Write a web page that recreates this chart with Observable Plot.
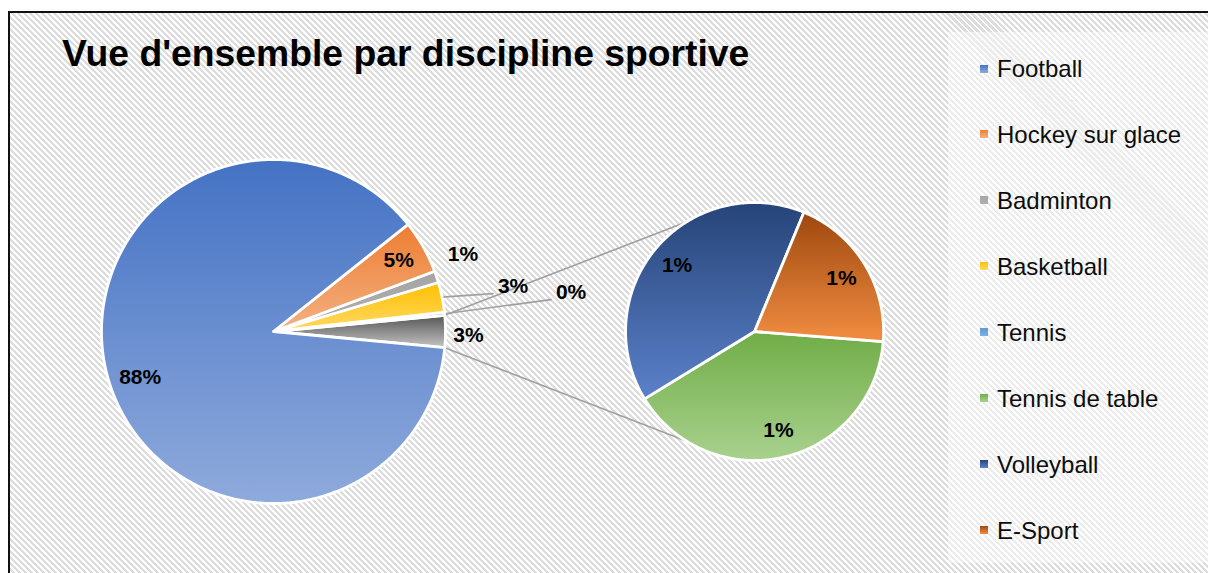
<!DOCTYPE html>
<html>
<head>
<meta charset="utf-8">
<script src="https://cdn.jsdelivr.net/npm/d3@7"></script>
<script src="https://cdn.jsdelivr.net/npm/@observablehq/plot@0.6"></script>
<style>
  html, body { margin: 0; padding: 0; background: #fff; width: 1208px; height: 573px; overflow: hidden;
    font-family: "Liberation Sans", Arial, sans-serif; }
  #wrap { position: relative; width: 1208px; height: 573px; overflow: hidden; }
  #frame { position: absolute; left: 8px; top: 11px; width: 1220px; height: 620px;
    border-left: 2px solid #111; border-top: 2px solid #111;
    background: repeating-linear-gradient(45deg, #ffffff 0px, #ffffff 2.1px, #dcdcdc 2.1px, #dcdcdc 4.24px); }
  #legendbox { position: absolute; left: 948px; top: 32px; width: 280px; height: 531px;
    background: rgba(255,255,255,0.45); }
  #chart { position: absolute; left: 0; top: 0; }
  #title { position: absolute; left: 62px; top: 35px; font-weight: bold; font-size: 37.3px;
    line-height: 37.3px; color: #000; white-space: nowrap; }
  .sw { position: absolute; width: 8px; height: 8px; }
  .lt { position: absolute; font-size: 24px; line-height: 24px; color: #0d0d0d; white-space: nowrap; }
</style>
</head>
<body>
<div id="wrap">
  <div id="frame"></div>
  <div id="legendbox"></div>
  <div id="chart"></div>
  <div id="title">Vue d'ensemble par discipline sportive</div>
  <div id="legend"></div>
</div>
<script>
// ---------------- DATA ----------------
const categories = ["Football", "Hockey sur glace", "Badminton", "Basketball", "Tennis",
                    "Tennis de table", "Volleyball", "E-Sport"];
const values = [87.8, 5.0, 1.1, 2.8, 0.3, 1.2, 1.2, 0.6];   // percent of total
const mainCount = 5;   // first 5 in the main pie, the rest grouped into "Autre" (secondary pie)

// ---------------- STYLE ----------------
const colorTop    = ["#4472C4", "#ED7D31", "#A5A5A5", "#FFC000", "#5B9BD5", "#70AD47", "#264478", "#9E480E"];
const colorBottom = ["#8FAADC", "#F4B183", "#B0B0B0", "#FFD966", "#7DB1E0", "#A9D18E", "#5B81C9", "#F28D42"];
const otherTop = "#555555", otherBottom = "#C4C4C4";

// ---------------- LAYOUT ----------------
const W = 1208, H = 573;
const PX = 172;                 // pixels per data unit (main pie radius = 1)
const CENTER = [273, 331];      // main pie centre in pixels
const CX2 = 2.797, R2 = 0.75;   // secondary pie centre (data units) and radius
const ROT2 = -4.5;              // secondary pie start angle (degrees, clockwise sweep)
const CONNECT2 = 122;           // angle on secondary pie where connector lines land
// label placement: [angle offset from slice mid (deg), radius factor]
const labelMain = [[2.5, 0.82], [0, 0.836], [3.6, 1.189], [-0.9, 1.417], [1.5, 1.745]];
const labelOther = [-1, 1.134];
const labelSecondary = 0.79;
const leaderFor = [false, false, false, true, true];
const fmt = d3.format(".0%");

// ---------------- GEOMETRY ----------------
const total = d3.sum(values);
const otherValue = d3.sum(values.slice(mainCount));
const deg = Math.PI / 180;
function wedge(cx, cy, r, a0, a1) {
  const pts = [[cx, cy]];
  const n = Math.max(2, Math.ceil((a1 - a0) / 0.5));
  for (let k = 0; k <= n; k++) {
    const a = (a0 + (a1 - a0) * k / n) * deg;
    pts.push([cx + r * Math.cos(a), cy + r * Math.sin(a)]);
  }
  pts.push([cx, cy]);
  return pts;
}
const polar = (cx, cy, r, a) => [cx + r * Math.cos(a * deg), cy + r * Math.sin(a * deg)];

const slices = [];   // {pts, grad}
const labels = [];   // {x, y, text}
const leaders = [];  // arrays of points

// main pie: "other" centred at 0°, remaining slices counter-clockwise in reverse order
const thetaOther = otherValue / total * 360;
slices.push({pts: wedge(0, 0, 1, -thetaOther / 2, thetaOther / 2), grad: "gOther"});
{
  const p = polar(0, 0, labelOther[1], labelOther[0]);
  labels.push({x: p[0], y: p[1], text: fmt(otherValue / total)});
}
let a = thetaOther / 2;
for (let i = mainCount - 1; i >= 0; i--) {
  const th = values[i] / total * 360;
  slices.push({pts: wedge(0, 0, 1, a, a + th), grad: "g" + i});
  const mid = a + th / 2;
  const [dA, rf] = labelMain[i];
  const p = polar(0, 0, rf, mid + dA);
  labels.push({x: p[0], y: p[1], text: fmt(values[i] / total)});
  if (leaderFor[i]) {
    const s = polar(0, 0, 1, mid);
    leaders.push([s, [p[0] - 20 / PX, p[1] - 7 / PX]]);
  }
  a += th;
}
// secondary pie
let b = ROT2;
for (let i = mainCount; i < values.length; i++) {
  const th = values[i] / otherValue * 360;
  slices.push({pts: wedge(CX2, 0, R2, b - th, b), grad: "g" + i});
  const p = polar(CX2, 0, R2 * labelSecondary, b - th / 2);
  labels.push({x: p[0], y: p[1], text: fmt(values[i] / total)});
  b -= th;
}
// connector lines between the pies
const connectors = [
  [polar(0, 0, 1, thetaOther / 2), polar(CX2, 0, R2, CONNECT2)],
  [polar(0, 0, 1, -thetaOther / 2), polar(CX2, 0, R2, -CONNECT2)]
];

// ---------------- PLOT ----------------
const marks = [];
for (const c of connectors) marks.push(Plot.line(c, {x: d => d[0], y: d => d[1], stroke: "#A0A0A0", strokeWidth: 1.6}));
for (const l of leaders) marks.push(Plot.line(l, {x: d => d[0], y: d => d[1], stroke: "#A0A0A0", strokeWidth: 1.6}));
for (const s of slices) {
  marks.push(Plot.line(s.pts, {x: d => d[0], y: d => d[1], fill: `url(#${s.grad})`,
    stroke: "white", strokeWidth: 2.8, strokeLinejoin: "round"}));
}
marks.push(Plot.text(labels, {x: "x", y: "y", text: "text", fontWeight: "bold", fontSize: 21,
  fill: "#000", textAnchor: "middle", lineAnchor: "middle"}));

const chart = Plot.plot({
  width: W, height: H,
  margin: 0,
  x: {type: "linear", domain: [-CENTER[0] / PX, (W - CENTER[0]) / PX], axis: null},
  y: {type: "linear", domain: [-(H - CENTER[1]) / PX, CENTER[1] / PX], axis: null},
  style: {background: "transparent", fontFamily: "Liberation Sans, Arial, sans-serif", overflow: "visible"},
  marks
});
const svg = chart.tagName.toLowerCase() === "svg" ? chart : chart.querySelector("svg");
let defsHtml = "";
const stop = (id, c0, c1) => `<linearGradient id="${id}" x1="0" y1="0" x2="0" y2="1">` +
  `<stop offset="0" stop-color="${c0}"/><stop offset="1" stop-color="${c1}"/></linearGradient>`;
categories.forEach((c, i) => { defsHtml += stop("g" + i, colorTop[i], colorBottom[i]); });
defsHtml += stop("gOther", otherTop, otherBottom);
const defs = document.createElementNS("http://www.w3.org/2000/svg", "defs");
defs.innerHTML = defsHtml;
svg.insertBefore(defs, svg.firstChild);
document.getElementById("chart").appendChild(chart);

// ---------------- LEGEND ----------------
const legend = document.getElementById("legend");
categories.forEach((c, i) => {
  const cy = 69 + i * 65.9;
  const sw = document.createElement("div");
  sw.className = "sw";
  sw.style.left = "980px";
  sw.style.top = (cy - 4.5) + "px";
  sw.style.background = `linear-gradient(${colorTop[i]}, ${colorBottom[i]})`;
  legend.appendChild(sw);
  const t = document.createElement("div");
  t.className = "lt";
  t.style.left = "997px";
  t.style.top = (cy - 11.7) + "px";
  t.textContent = c;
  legend.appendChild(t);
});
</script>
</body>
</html>
